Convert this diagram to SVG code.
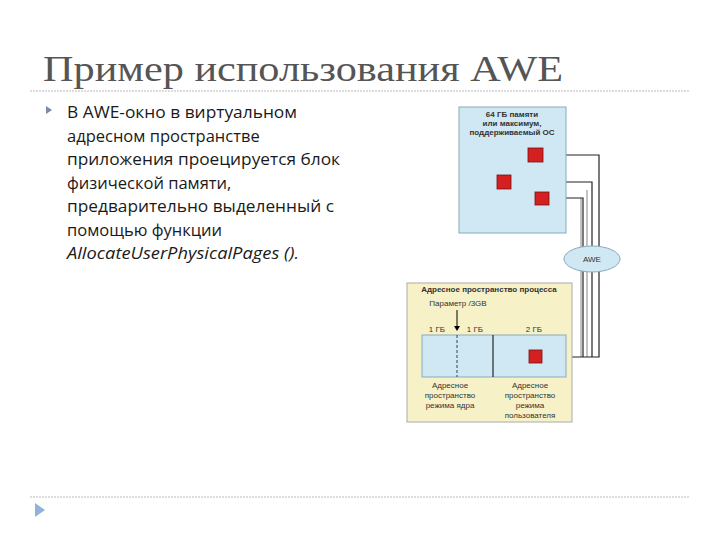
<svg xmlns="http://www.w3.org/2000/svg" width="720" height="540" viewBox="0 0 720 540">
<style>
.t{font-family:"Open Sans","Liberation Sans",sans-serif;font-size:16.5px;fill:#1a1a1a}
.s{font-family:"Liberation Sans",sans-serif;font-size:8px;fill:#333;text-anchor:middle}
.b{font-weight:bold}
.sq{fill:#d42020;stroke:#7a1010;stroke-width:0.8}
.ln{fill:none;stroke:#222;stroke-width:1.2}
.lg{fill:none;stroke:#999;stroke-width:1.2}
</style>
<rect width="720" height="540" fill="#fff"/>
<text x="43" y="81" font-family="Liberation Serif, serif" font-size="35" fill="#555" textLength="520" lengthAdjust="spacingAndGlyphs">Пример использования AWE</text>
<line x1="30" y1="91" x2="690" y2="91" stroke="#bbb" stroke-dasharray="2,1"/>
<line x1="30" y1="497" x2="690" y2="497" stroke="#bbb" stroke-dasharray="2,1"/>
<polygon points="46,106 52,110 46,114" fill="#7a8aa8"/>
<polygon points="35,503 45,510 35,517" fill="#8fb3d9"/>
<g id="text">
<text class="t" x="67" y="118" textLength="230" lengthAdjust="spacingAndGlyphs">В AWE-окно в виртуальном</text>
<text class="t" x="67" y="142">адресном пространстве</text>
<text class="t" x="67" y="165" textLength="273" lengthAdjust="spacingAndGlyphs">приложения проецируется блок</text>
<text class="t" x="67" y="189">физической памяти,</text>
<text class="t" x="67" y="212" textLength="267" lengthAdjust="spacingAndGlyphs">предварительно выделенный с</text>
<text class="t" x="67" y="236">помощью функции</text>
<text class="t" x="67" y="259" font-style="italic" textLength="232" lengthAdjust="spacingAndGlyphs">AllocateUserPhysicalPages ().</text>
</g>
<g id="connectors">
<polyline class="lg" points="581,198 581,357"/>
<polyline class="lg" points="587,190 587,357"/>
<polyline class="ln" points="549,198 583,198 583,357"/>
<polyline class="ln" points="511,182 592,182 592,357"/>
<polyline class="ln" points="543,155 599,155 599,357 542,357"/>
</g>
<g id="memory">
<rect x="459" y="107" width="107" height="126" fill="#cfe8f3" stroke="#8ab"/>
<text class="s b" x="512" y="117">64 ГБ памяти</text>
<text class="s b" x="512" y="126">или максимум,</text>
<text class="s b" x="512" y="135">поддерживаемый ОС</text>
<rect class="sq" x="528" y="148" width="15" height="14"/>
<rect class="sq" x="497" y="175" width="14" height="14"/>
<rect class="sq" x="535" y="192" width="14" height="13"/>
</g>
<g id="awe">
<ellipse cx="592" cy="259" rx="28" ry="13" fill="#cfe8f3" stroke="#8ab"/>
<text class="s" x="592" y="262">AWE</text>
</g>
<g id="process">
<rect x="407" y="283" width="165" height="139" fill="#f7f1c8" stroke="#aaa"/>
<text class="s b" x="489" y="292">Адресное пространство процесса</text>
<text class="s" x="458" y="306">Параметр /3GB</text>
<line x1="457" y1="310" x2="457" y2="327" stroke="#000"/>
<polygon points="454,326 460,326 457,331" fill="#000"/>
<text class="s" x="437" y="332">1 ГБ</text>
<text class="s" x="475" y="332">1 ГБ</text>
<text class="s" x="534" y="332">2 ГБ</text>
<rect x="422" y="335" width="144" height="42" fill="#cfe8f3" stroke="#8ab"/>
<line x1="457" y1="335" x2="457" y2="377" stroke="#246" stroke-dasharray="3,2"/>
<line x1="493" y1="335" x2="493" y2="377" stroke="#000"/>
<rect class="sq" x="529" y="350" width="13" height="13"/>
<text class="s" x="450" y="388">Адресное</text>
<text class="s" x="450" y="398">пространство</text>
<text class="s" x="450" y="408">режима ядра</text>
<text class="s" x="530" y="388">Адресное</text>
<text class="s" x="530" y="398">пространство</text>
<text class="s" x="530" y="408">режима</text>
<text class="s" x="530" y="418">пользователя</text>
</g>
</svg>
